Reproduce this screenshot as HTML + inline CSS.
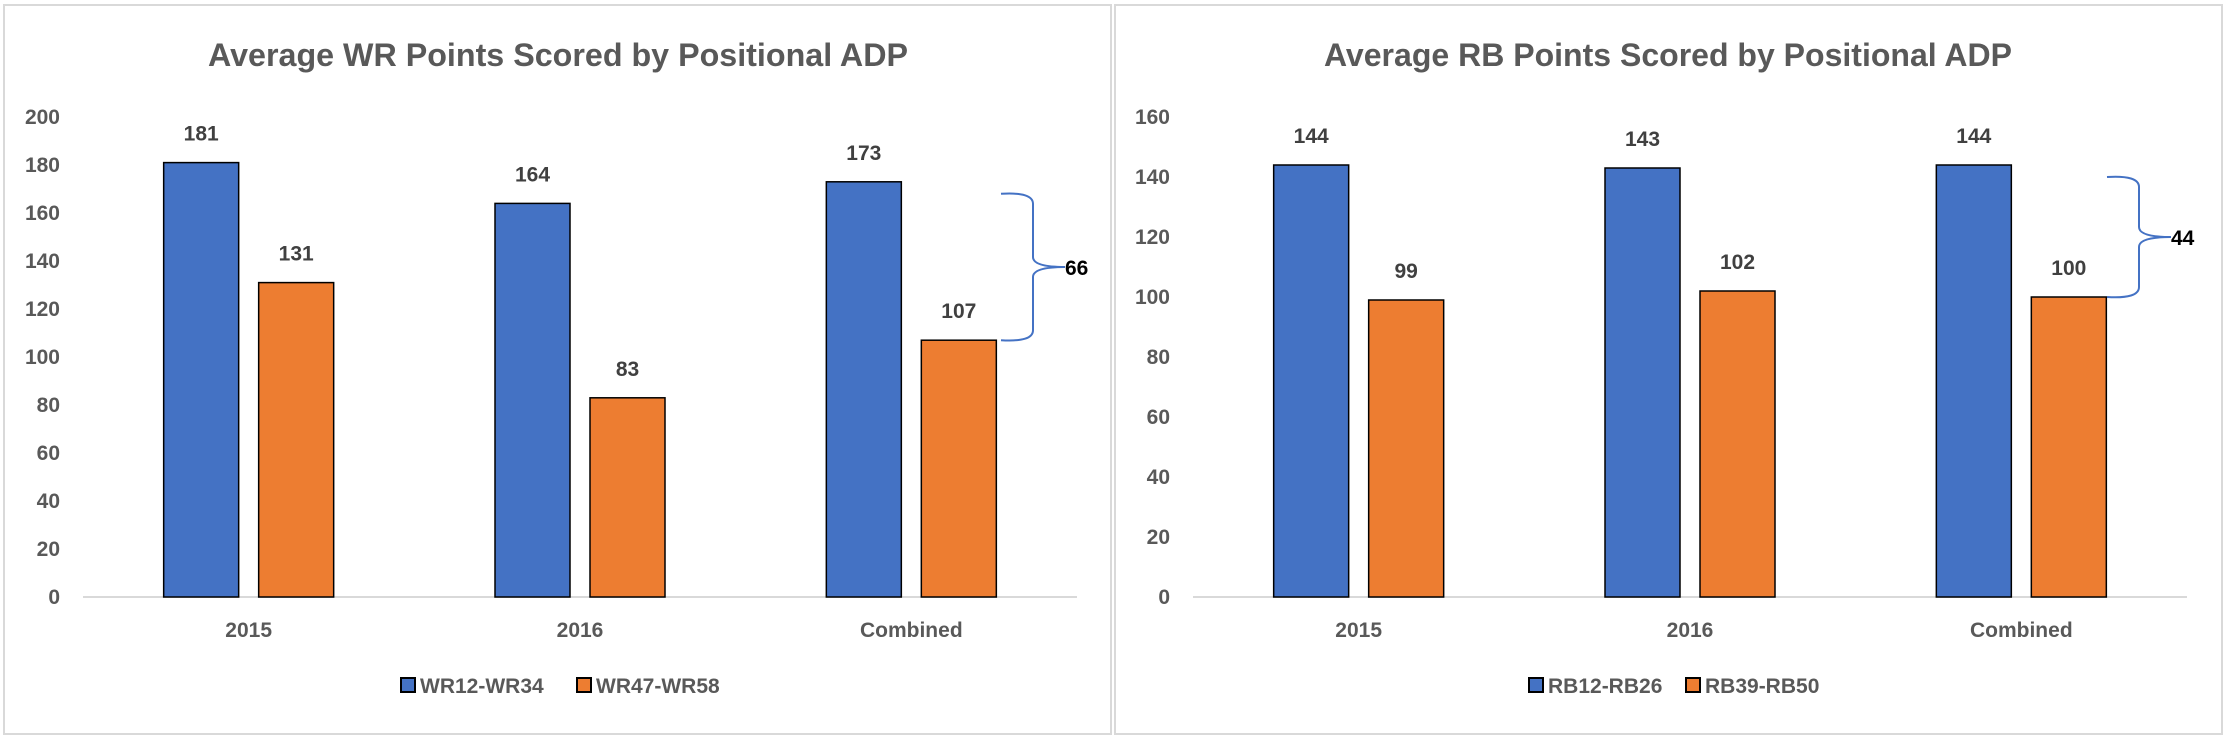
<!DOCTYPE html>
<html><head><meta charset="utf-8"><style>
html,body{margin:0;padding:0;background:#fff;}
svg{display:block;font-family:"Liberation Sans",sans-serif;}
</style></head><body>
<svg id="chart" width="2230" height="742" viewBox="0 0 2230 742" xmlns="http://www.w3.org/2000/svg"></svg>
<script>
const categories = ["2015", "2016", "Combined"];
const wrTicks = [0,20,40,60,80,100,120,140,160,180,200];
const rbTicks = [0,20,40,60,80,100,120,140,160];
const wrTop = [181, 164, 173];
const wrLow = [131, 83, 107];
const rbTop = [144, 143, 144];
const rbLow = [99, 102, 100];
const wrSeries = ["WR12-WR34", "WR47-WR58"];
const rbSeries = ["RB12-RB26", "RB39-RB50"];
const wrDiff = ["66"];
const rbDiff = ["44"];

const NS = "http://www.w3.org/2000/svg";
const svg = document.getElementById("chart");
function mk(tag, attrs, parent){
  const e = document.createElementNS(NS, tag);
  for (const k in attrs) e.setAttribute(k, attrs[k]);
  (parent||svg).appendChild(e);
  return e;
}
const BLUE="#4472C4", ORANGE="#ED7D31", GRAY="#595959";

function drawChart(cfg){
  const g = mk("g", {});
  
  
  const panel = mk("rect", {x:cfg.px, y:5, width:cfg.pw, height:729, fill:"#fff", stroke:"#d9d9d9", "stroke-width":2}, g);
  
  
  const title = mk("text", {x:cfg.titleX, y:66, "font-size":32, "font-weight":"bold", fill:GRAY, textLength:cfg.titleW, lengthAdjust:"spacingAndGlyphs"}, g);
  title.textContent = cfg.title;
  
  
  const y0 = 597, yTopPx = 117;
  const maxV = cfg.ticks[cfg.ticks.length-1];
  const yScale = v => y0 - v/maxV*(y0-yTopPx);
  const catW = (cfg.x1-cfg.x0)/categories.length;
  const xCenter = i => cfg.x0 + catW*(i+0.5);
  const bw = 75, gap = 20;
  cfg.ticks.forEach(t=>{
    const tx = mk("text", {x:cfg.labelX, y:yScale(t)+7, "font-size":21, "font-weight":"bold", fill:GRAY, "text-anchor":"end"}, g);
    tx.textContent = t;
    
    
  });
  const axis = mk("line", {x1:cfg.x0, x2:cfg.x1, y1:y0, y2:y0, stroke:"#d9d9d9", "stroke-width":2}, g);
  
  
  categories.forEach((c,i)=>{
    const cx = xCenter(i);
    [[cfg.top,BLUE,-1],[cfg.low,ORANGE,1]].forEach(([arr,col,side],s)=>{
      const v = arr[i];
      const bx = side<0 ? cx-gap/2-bw : cx+gap/2;
      const r = mk("rect", {x:bx, y:yScale(v), width:bw, height:y0-yScale(v), fill:col, stroke:"#000", "stroke-width":1.5}, g);
      
      
      const lb = mk("text", {x:bx+bw/2, y:yScale(v)-22, "font-size":21, "font-weight":"bold", fill:"#404040", "text-anchor":"middle"}, g);
      lb.textContent = v;
      
      
    });
    const cl = mk("text", {x:cx, y:637, "font-size":21, "font-weight":"bold", fill:GRAY, "text-anchor":"middle"}, g);
    cl.textContent = c;
    
    
  });
  // bracket between combined bars
  const yt = yScale(cfg.top[2]) + 12, yb = yScale(cfg.low[2]);
  const bx0 = cfg.bx, bxm = cfg.bx+32, bxt = cfg.bx+64, ym = (yt+yb)/2;
  const br = mk("path", {d:`M${bx0},${yt} Q${bxm},${yt-2} ${bxm},${yt+10} L${bxm},${ym-10} Q${bxm},${ym} ${bxt},${ym} Q${bxm},${ym} ${bxm},${ym+10} L${bxm},${yb-10} Q${bxm},${yb+2} ${bx0},${yb}`, fill:"none", stroke:BLUE, "stroke-width":2}, g);
  
  
  const dl = mk("text", {x:bxt, y:ym+8, "font-size":21, "font-weight":"bold", fill:"#000"}, g);
  dl.textContent = cfg.diff[0];
  
  
  // legend
  cfg.series.forEach((s,i)=>{
    const lx = cfg.legX + i*cfg.legStep;
    const sq = mk("rect", {x:lx, y:678, width:14, height:14, fill:i?ORANGE:BLUE, stroke:"#000", "stroke-width":2}, g);
    
    
    const lt = mk("text", {x:lx+19, y:693, "font-size":21, "font-weight":"bold", fill:GRAY}, g);
    lt.textContent = s;
    
    
  });
}
drawChart({name:"wr-chart", px:4, pw:1107, title:"Average WR Points Scored by Positional ADP", titleX:208, titleW:700,
  ticks:wrTicks, top:wrTop, low:wrLow, x0:83, x1:1077, labelX:60, bx:1001, diff:wrDiff, series:wrSeries, legX:401, legStep:176});
drawChart({name:"rb-chart", px:1115, pw:1107, title:"Average RB Points Scored by Positional ADP", titleX:1324, titleW:688,
  ticks:rbTicks, top:rbTop, low:rbLow, x0:1193, x1:2187, labelX:1170, bx:2107, diff:rbDiff, series:rbSeries, legX:1529, legStep:157});
</script>
</body></html>
